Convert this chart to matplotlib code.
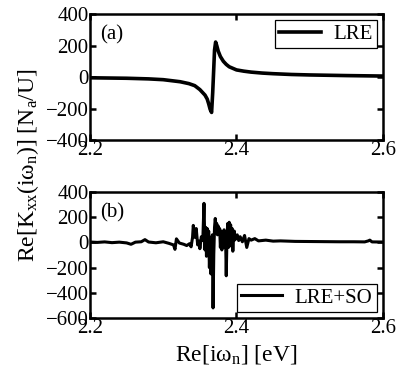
import matplotlib
matplotlib.use('Agg')
import matplotlib.pyplot as plt

plt.rcParams.update({
    'font.family': ['Liberation Serif', 'DejaVu Serif'],
    'mathtext.fontset': 'custom',
    'mathtext.rm': 'Liberation Serif',
    'mathtext.it': 'Liberation Serif',
    'font.size': 15,
    'xtick.direction': 'in',
    'ytick.direction': 'in',
    'xtick.top': True,
    'ytick.right': True,
})

# Panel (a): LRE
x_lre = [2.200, 2.250, 2.280, 2.300, 2.323, 2.335, 2.343, 2.350, 2.357, 2.360, 2.362,
         2.364, 2.366, 2.3675, 2.369, 2.370, 2.3715, 2.373, 2.375, 2.378, 2.382,
         2.386, 2.390, 2.395, 2.400, 2.410, 2.420, 2.435, 2.450, 2.475, 2.500,
         2.550, 2.600]
y_lre = [-5, -8, -12, -17, -30, -42, -55, -80, -115, -140, -170,
         -205, -225, -100, 60, 170, 222, 200, 165, 130, 100,
         80, 65, 55, 45, 37, 31, 25, 21, 16, 13,
         9, 6]

# Panel (b): LRE+SO
x_so = [2.200, 2.210, 2.220, 2.230, 2.240, 2.250, 2.256, 2.262, 2.270, 2.275, 2.280,
        2.290, 2.300, 2.308, 2.314, 2.316, 2.318, 2.322, 2.328, 2.332, 2.336,
        2.338, 2.340, 2.341, 2.343, 2.345, 2.347, 2.349, 2.350, 2.352, 2.354,
        2.3556, 2.357, 2.358, 2.359, 2.360, 2.361, 2.362, 2.363, 2.364, 2.365,
        2.366, 2.367, 2.368, 2.369, 2.370, 2.371, 2.372, 2.373, 2.374, 2.375,
        2.376, 2.377, 2.378, 2.379, 2.380, 2.381, 2.382, 2.383, 2.384, 2.385,
        2.386, 2.387, 2.388, 2.389, 2.390, 2.391, 2.392, 2.393, 2.394, 2.395,
        2.396, 2.397, 2.398, 2.399, 2.401, 2.403, 2.405, 2.408, 2.411, 2.414,
        2.417, 2.420, 2.425, 2.430, 2.440, 2.450, 2.460, 2.480, 2.500, 2.520,
        2.540, 2.560, 2.575, 2.580, 2.582, 2.585, 2.600]
y_so = [3, 0, 4, -2, 2, -4, -15, 2, 5, 22, 3,
        -3, 5, -8, -20, -55, 28, -5, -15, -25, -10,
        -35, 40, 135, 40, 110, -20, 10, -50, 45, 15,
        310, -60, 120, -110, 110, -40, 90, -200, 40, -250,
        -170, 60, -520, -90, 120, 190, 120, 150, 60, 130,
        70, 110, -40, 90, -60, 80, 30, 100, -40, 70,
        -265, 40, 150, -40, 160, 60, 140, -30, 110, -70,
        70, 90, 20, 50, 60, 15, 45, 5, 55, -40,
        30, 18, 30, 12, 18, 10, 12, 8, 7, 6,
        5, 5, 4, 12, 18, 4, 3]

fig = plt.figure(figsize=(3.99, 3.82), dpi=100)
ax1 = fig.add_axes([90 / 399, 1 - 140 / 382, 293 / 399, 126 / 382])
ax2 = fig.add_axes([90 / 399, 1 - 318 / 382, 293 / 399, 126 / 382])

ax1.plot(x_lre, y_lre, color='black', lw=2.6, label='LRE')
ax2.plot(x_so, y_so, color='black', lw=2.2, label='LRE+SO')

ax1.set_ylim(-400, 400)
ax1.set_yticks([-400, -200, 0, 200, 400])
ax2.set_ylim(-600, 400)
ax2.set_yticks([-600, -400, -200, 0, 200, 400])

for ax in (ax1, ax2):
    ax.set_xlim(2.2, 2.6)
    ax.set_xticks([2.2, 2.4, 2.6])
    ax.set_xticklabels(['2.2', '2.4', '2.6'])
    ax.tick_params(length=4, width=1.8, labelsize=15)
    ax.tick_params(axis='x', pad=1)
    ax.tick_params(axis='y', pad=1)
    for s in ax.spines.values():
        s.set_linewidth(1.8)

ax1.text(0.035, 0.80, '(a)', transform=ax1.transAxes, fontsize=15)
ax2.text(0.035, 0.80, '(b)', transform=ax2.transAxes, fontsize=15)

leg_kw = dict(frameon=True, fancybox=False, edgecolor='black', framealpha=1,
              handlelength=2.0, borderpad=0.2, handletextpad=0.6, borderaxespad=0.3,
              fontsize=15)
l1 = ax1.legend(loc='upper right', **leg_kw)
l2 = ax2.legend(loc='lower right', **leg_kw)
for l in (l1, l2):
    l.get_frame().set_linewidth(0.9)

ax2.set_xlabel(r'Re[i$\omega_{\rm n}$] [eV]', fontsize=17, labelpad=3)
fig.text(0.07, 1 - 165 / 382, r'Re[K$_{\rm xx}$(i$\omega_{\rm n}$)] [N$_{\rm a}$/U]',
         rotation=90, ha='center', va='center', fontsize=17)

fig.savefig('out.png', dpi=100)
